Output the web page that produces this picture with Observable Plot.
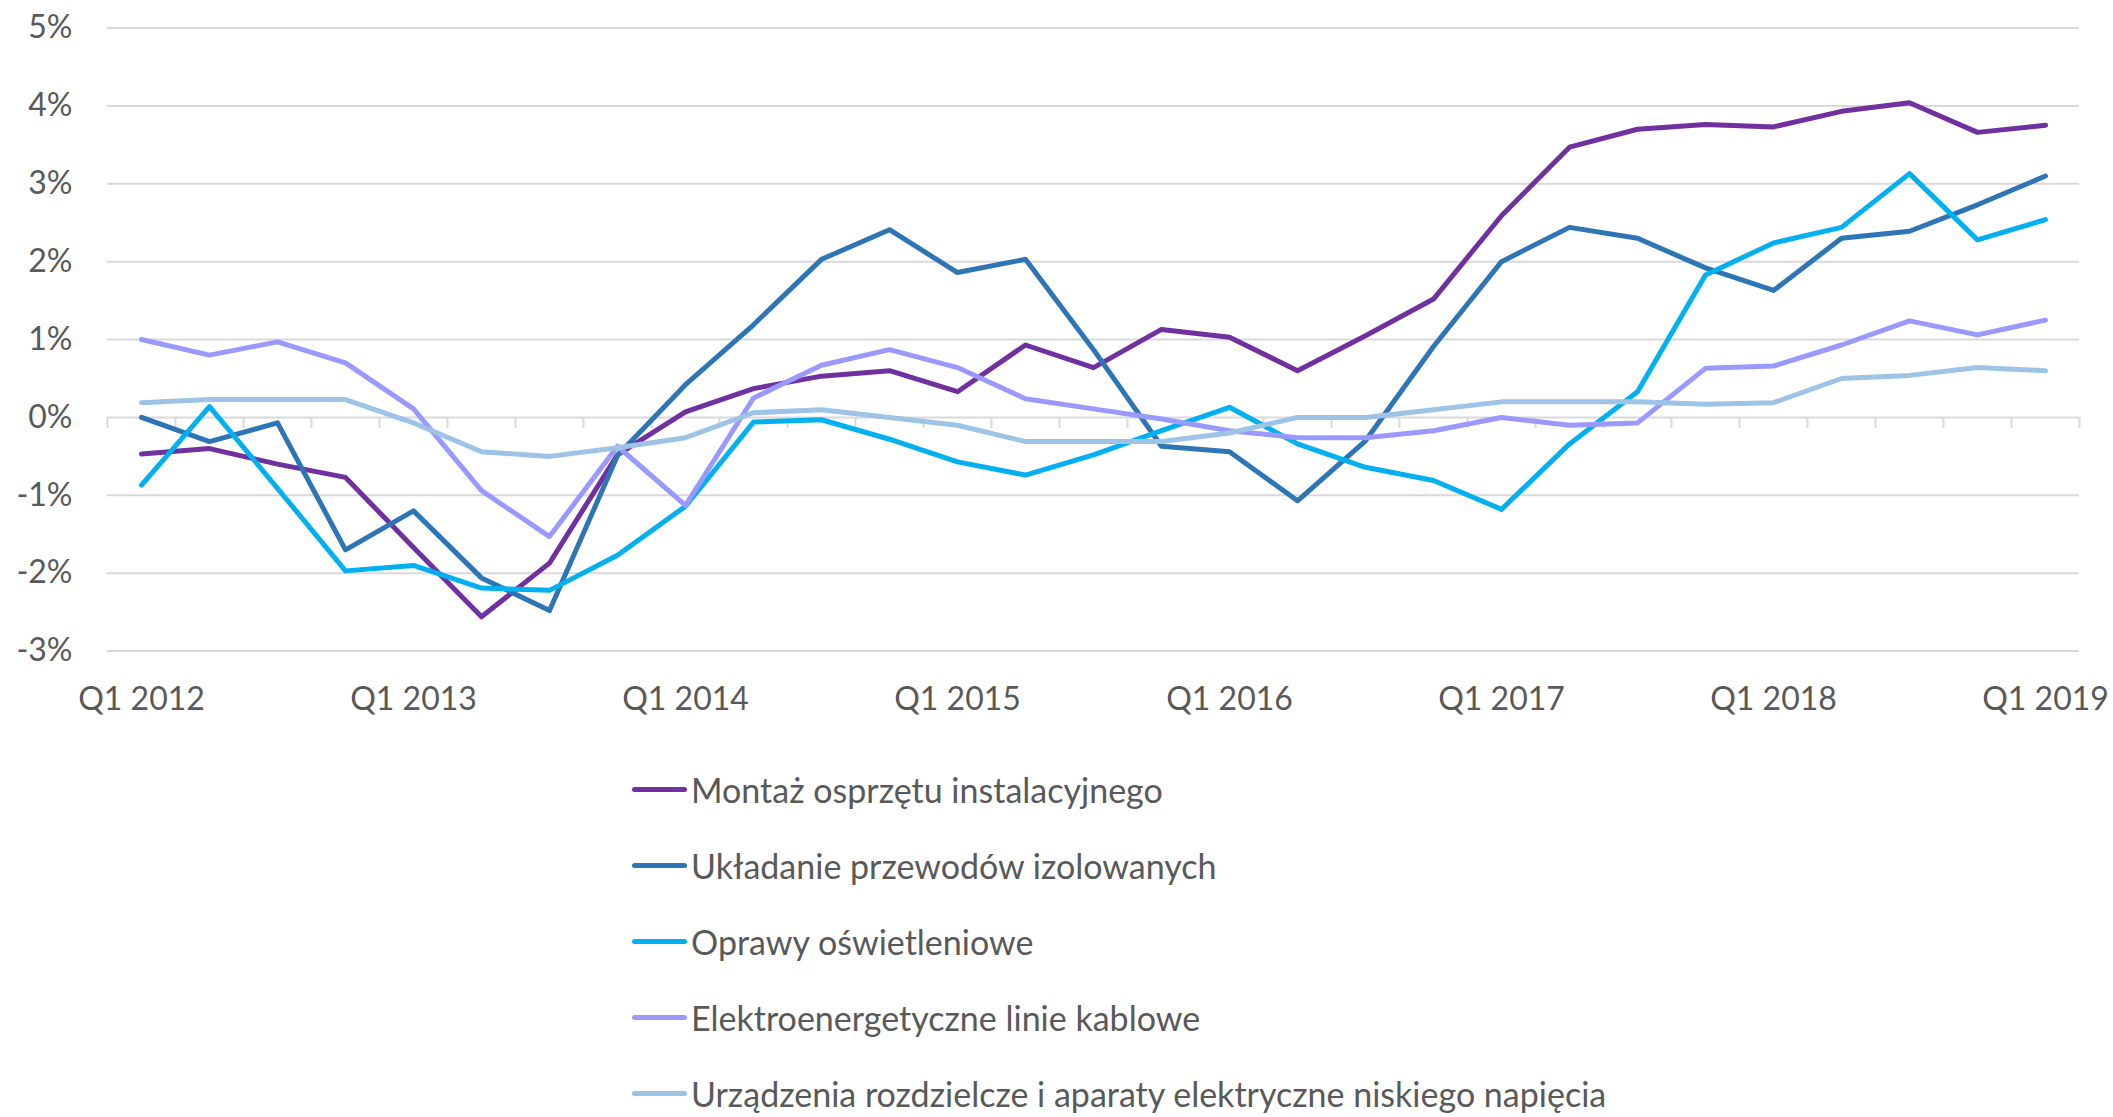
<!DOCTYPE html>
<html>
<head>
<meta charset="utf-8">
<script src="https://cdn.jsdelivr.net/npm/d3@7"></script>
<script src="https://cdn.jsdelivr.net/npm/@observablehq/plot@0.6"></script>
<style>
  html, body { margin: 0; padding: 0; background: #fff; overflow: hidden; }
  #chart svg { display: block; }
  .legend { margin-top: 6px; padding-left: 632px; font-family: Lato, sans-serif; font-size: 34px; color: #595959; }
  .row { display: flex; align-items: center; height: 76.2px; }
  .sw { width: 55px; height: 5px; border-radius: 3px; margin-right: 4px; flex: none; }
</style>
</head>
<body>
<div id="chart"></div>
<div class="legend" id="legend"></div>
<script>
// ---- data ----
const quarters = [
  "Q1 2012","Q2 2012","Q3 2012","Q4 2012",
  "Q1 2013","Q2 2013","Q3 2013","Q4 2013",
  "Q1 2014","Q2 2014","Q3 2014","Q4 2014",
  "Q1 2015","Q2 2015","Q3 2015","Q4 2015",
  "Q1 2016","Q2 2016","Q3 2016","Q4 2016",
  "Q1 2017","Q2 2017","Q3 2017","Q4 2017",
  "Q1 2018","Q2 2018","Q3 2018","Q4 2018",
  "Q1 2019"
];
const seriesNames = [
  "Montaż osprzętu instalacyjnego",
  "Układanie przewodów izolowanych",
  "Oprawy oświetleniowe",
  "Elektroenergetyczne linie kablowe",
  "Urządzenia rozdzielcze i aparaty elektryczne niskiego napięcia"
];
const montaz     = [-0.47,-0.40,-0.60,-0.77,-1.67,-2.56,-1.87,-0.48,0.07,0.37,0.53,0.60,0.33,0.93,0.64,1.13,1.03,0.60,1.05,1.52,2.59,3.47,3.70,3.76,3.73,3.93,4.04,3.66,3.75];
const ukladanie  = [0.00,-0.31,-0.07,-1.70,-1.20,-2.06,-2.48,-0.49,0.42,1.19,2.03,2.41,1.86,2.03,0.87,-0.37,-0.44,-1.07,-0.30,0.91,2.00,2.44,2.30,1.92,1.63,2.30,2.39,2.73,3.10];
const oprawy     = [-0.87,0.14,-0.91,-1.97,-1.90,-2.19,-2.22,-1.77,-1.14,-0.06,-0.03,-0.28,-0.57,-0.74,-0.48,-0.17,0.13,-0.34,-0.64,-0.81,-1.18,-0.34,0.33,1.83,2.24,2.44,3.13,2.28,2.54];
const elektro    = [1.00,0.80,0.97,0.70,0.11,-0.94,-1.53,-0.37,-1.13,0.25,0.67,0.87,0.64,0.24,0.11,-0.02,-0.17,-0.26,-0.26,-0.17,0.00,-0.10,-0.07,0.63,0.66,0.93,1.24,1.06,1.25];
const urzadzenia = [0.19,0.23,0.23,0.23,-0.07,-0.44,-0.50,-0.39,-0.26,0.06,0.10,0.00,-0.10,-0.31,-0.31,-0.31,-0.20,0.00,0.00,0.10,0.20,0.20,0.20,0.17,0.19,0.50,0.54,0.64,0.60];
const yTicks = [-3,-2,-1,0,1,2,3,4,5];

// ---- styles ----
const colors = ["#7030A0","#2E75B6","#00B0F0","#9999FF","#9DC3E6"];
const textColor = "#595959";
const gridColor = "#d9d9d9";

// ---- build table ----
const seriesValues = [montaz, ukladanie, oprawy, elektro, urzadzenia];
const rows = [];
seriesValues.forEach((vals, k) => vals.forEach((v, i) => rows.push({i, v, s: seriesNames[k]})));
const labelIdx = quarters.map((q, i) => i).filter(i => quarters[i].startsWith("Q1"));
const boundaries = d3.range(quarters.length + 1).map(i => i - 0.5);

const W = 2113, H = 745, mL = 107, mR = 34, mT = 27.5, mB = 94.4;
const pxPerUnit = (H - mT - mB) / (yTicks[yTicks.length - 1] - yTicks[0]);
const tickLen = 11 / pxPerUnit;

const plot = Plot.plot({
  width: W, height: H,
  marginLeft: mL, marginRight: mR, marginTop: mT, marginBottom: mB,
  style: {fontFamily: "Lato, sans-serif", fontSize: "32px", color: textColor, background: "#fff"},
  x: {type: "linear", domain: [-0.5, quarters.length - 0.5], label: null},
  y: {domain: [yTicks[0], yTicks[yTicks.length - 1]], label: null},
  color: {domain: seriesNames, range: colors},
  marks: [
    Plot.ruleY(yTicks, {stroke: gridColor, strokeWidth: 2}),
    Plot.ruleX(boundaries, {x: d => d, y1: 0, y2: -tickLen, stroke: gridColor, strokeWidth: 2}),
    Plot.axisY(yTicks, {tickSize: 0, tickPadding: 35, tickFormat: d => d + "%", fontSize: 32, label: null}),
    Plot.axisX(labelIdx, {tickSize: 0, tickPadding: 36, tickFormat: i => quarters[i], fontSize: 32, label: null}),
    Plot.line(rows, {x: "i", y: "v", z: "s", stroke: "s", strokeWidth: 5, strokeLinejoin: "round", strokeLinecap: "round"})
  ]
});
document.getElementById("chart").appendChild(plot);

// ---- legend ----
const legend = document.getElementById("legend");
seriesNames.forEach((name, k) => {
  const row = document.createElement("div");
  row.className = "row";
  const sw = document.createElement("span");
  sw.className = "sw";
  sw.style.background = colors[k];
  const t = document.createElement("span");
  t.textContent = name;
  row.appendChild(sw);
  row.appendChild(t);
  legend.appendChild(row);
});
</script>
</body>
</html>
